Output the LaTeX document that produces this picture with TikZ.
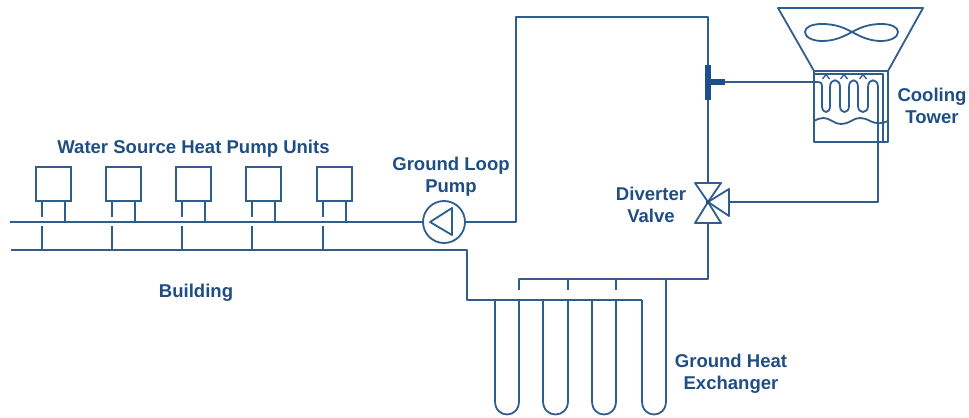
\documentclass[tikz,border=0pt]{standalone}
\usepackage{fontspec}
\setmainfont{Liberation Sans}
\definecolor{pipe}{HTML}{2F5E8E}
\definecolor{txt}{HTML}{1F4E85}
\definecolor{dark}{HTML}{1D4F8C}
\tikzset{
  pipeline/.style={draw=pipe,line width=1.35pt,line join=round},
  lbl/.style={text=txt,font=\bfseries\fontsize{13.9}{16.5}\selectfont,align=center,inner sep=0pt},
  unitbox/.style={draw=pipe,line width=1.35pt,minimum width=26.2pt,minimum height=25.5pt,inner sep=0pt},
  pumpc/.style={circle,draw=pipe,line width=1.35pt,minimum size=31.5pt,inner sep=0pt}
}
\begin{document}
\begin{tikzpicture}[x=0.75pt,y=-0.75pt]
\useasboundingbox (0,0) rectangle (969,417);
\fill[white] (0,0) rectangle (969,417);
% labels
\node[lbl] (t1) at (193.5,148.5) {Water Source Heat Pump Units};
\node[lbl] (t2) at (451,176.5) {Ground Loop\\Pump};
\node[lbl] (t3) at (196,293) {Building};
\node[lbl] (t4) at (651,205) {Diverter\\Valve};
\node[lbl] (t5) at (932,106) {Cooling\\Tower};
\node[lbl] (t6) at (731,374) {Ground Heat\\Exchanger};
% units
\foreach \n/\x in {1/53.5,2/123.5,3/193.5,4/263.5,5/334.2}{
  \node[unitbox] (u\n) at (\x,184) {};
  \draw[pipeline] (\x-11.5,201) -- (\x-11.5,217);
  \draw[pipeline] (\x+11.5,201) -- (\x+11.5,222);
  \draw[pipeline] (\x-11.5,226) -- (\x-11.5,250);
}
% pump
\node[pumpc] (pump) at (444,222) {};
\coordinate (sl) at (10,222);
\coordinate (rl) at (11,250);
\draw[pipeline] (sl) -- (pump.west);
\draw[pipeline] (pump.east) -- (516,222) -- (516,17) -- (708,17) -- (708,183);
\draw[pipeline] (430,222) -- (452,208) -- (452,235) -- cycle;
% return and ground exchanger
\draw[pipeline] (rl) -- (467,250) -- (467,300) -- (642,300);
\foreach \a/\b in {495/519,543/568,592/616}{
  \draw[pipeline] (\a,300) -- (\a,401) .. controls (\a,419) and (\b,419) .. (\b,401) -- (\b,300);
}
\draw[pipeline] (642,300) -- (642,401) .. controls (642,419) and (666,419) .. (666,401) -- (666,279);
\draw[pipeline] (519,290) -- (519,279) -- (708,279) -- (708,223);
\draw[pipeline] (568,290) -- (568,279);
\draw[pipeline] (616,290) -- (616,279);
% valve
\coordinate (vc) at (708,202);
\draw[pipeline] (vc) -- (695,183) -- (721,183) -- cycle;
\draw[pipeline] (vc) -- (695,223) -- (721,223) -- cycle;
\draw[pipeline] (vc) -- (729,189) -- (729,216) -- cycle;
\fill[dark] (vc) circle[radius=2.2];
% tower
\draw[pipeline] (814,71) -- (778,8) -- (923,8) -- (888,71);
\draw[pipeline] (814,71) rectangle (888,142);
\draw[pipeline] (814,121) .. controls (821,117) and (826,117) .. (832,121) .. controls (838,125) and (844,125) .. (851,121) .. controls (857,117) and (863,117) .. (870,121) .. controls (876,124) and (882,124) .. (888,121);
% fan
\draw[pipeline] (852,32) .. controls (843,27) and (834,24) .. (822,24) .. controls (812,24) and (805,27) .. (805,32) .. controls (805,37) and (812,41) .. (822,41) .. controls (834,41) and (843,37) .. (852,32) .. controls (861,27) and (870,24) .. (881,24) .. controls (891,24) and (898,27) .. (898,32) .. controls (898,37) and (891,41) .. (881,41) .. controls (870,41) and (861,37) .. (852,32);
% coil
\draw[pipeline] (725,82) -- (818,82) .. controls (821,82) and (822,83) .. (822,86) -- (822,106)
  .. controls (822,114) and (830,114) .. (830,106) -- (830,87)
  .. controls (830,78) and (840,78) .. (840,87) -- (840,106)
  .. controls (840,114) and (849,114) .. (849,106) -- (849,87)
  .. controls (849,78) and (858,78) .. (858,87) -- (858,106)
  .. controls (858,114) and (868,114) .. (868,106) -- (868,87)
  .. controls (868,78) and (878,78) .. (878,87) -- (878,202) -- (729,202);
\draw[pipeline] (814,74) -- (883,74) -- (883,142);
\foreach \x in {826,844,863}{
  \draw[pipeline,line width=1pt] (\x-3.5,79) -- (\x,74.5) -- (\x+3.5,79);
}
% tee
\draw[draw=dark,line width=4pt] (708,65) -- (708,100);
\draw[draw=dark,line width=4pt] (708,82) -- (725,82);
\end{tikzpicture}
\end{document}
